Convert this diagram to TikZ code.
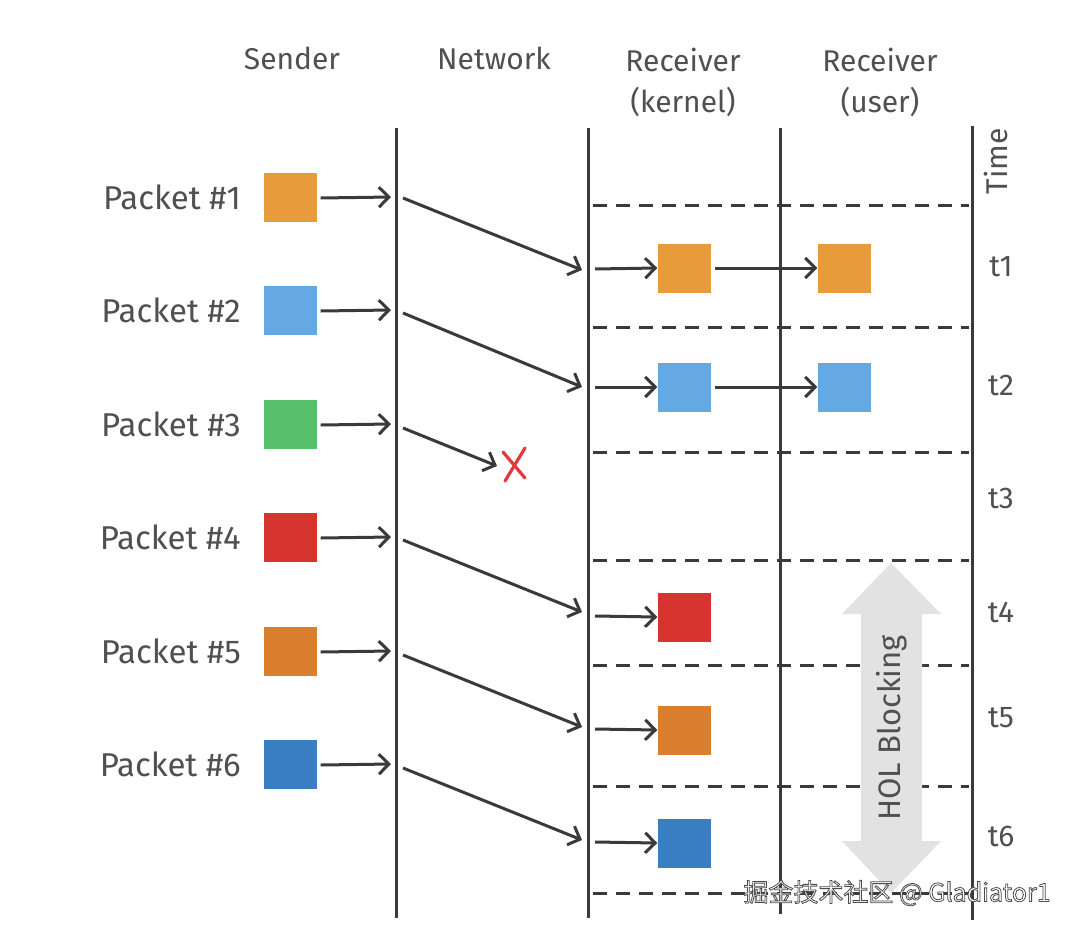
\documentclass[tikz,border=0pt]{standalone}
\usepackage{fontspec}
\setmainfont{Fira Sans}
\newfontfamily\cjkfont{Noto Sans CJK SC}
\usetikzlibrary{arrows.meta}
\definecolor{ink}{HTML}{3A3A3A}
\definecolor{txt}{HTML}{505050}
\definecolor{pone}{HTML}{E89B3A}
\definecolor{ptwo}{HTML}{64A8E4}
\definecolor{pthree}{HTML}{55BF6B}
\definecolor{pfour}{HTML}{D8342F}
\definecolor{pfive}{HTML}{DA7F2E}
\definecolor{psix}{HTML}{3A7FC1}
\definecolor{holgray}{HTML}{E2E2E2}
\definecolor{xred}{HTML}{E03A3A}
\tikzset{
  pkt/.style={minimum width=53pt,minimum height=49pt,inner sep=0pt,draw=none},
  lane/.style={draw=ink,line width=3pt},
  flow/.style={draw=ink,line width=3pt,-{Straight Barb[length=10pt,width=20pt,line width=3pt]}},
  tline/.style={draw=ink,line width=3pt,dash pattern=on 14pt off 9pt},
  hdr/.style={text=txt,font=\fontsize{30}{32}\selectfont,inner sep=0pt},
  lbl/.style={text=txt,font=\fontsize{33}{35}\selectfont,inner sep=0pt},
  tlbl/.style={text=txt,font=\fontsize{30}{32}\selectfont,inner sep=0pt}
}
\begin{document}
\begin{tikzpicture}[x=1pt,y=-1pt]
\useasboundingbox (0,0) rectangle (1078,934);
\fill[white] (0,0) rectangle (1078,934);

% headers
\node[hdr] (hs) at (292,58) {Sender};
\node[hdr] (hn) at (494,58) {Network};
\node[hdr] (hk) at (683,60) {Receiver};
\node[hdr] (hk2) at (683,102) {(kernel)};
\node[hdr] (hu) at (880,60) {Receiver};
\node[hdr] (hu2) at (880,102) {(user)};

% vertical lanes
\coordinate (n0) at (396,128); \coordinate (n1) at (396,918);
\coordinate (k0) at (588,128); \coordinate (k1) at (588,918);
\coordinate (u0) at (780,128); \coordinate (u1) at (780,914);
\coordinate (t0) at (972,126); \coordinate (t1) at (972,920);
\draw[lane] (n0) -- (n1);
\draw[lane] (k0) -- (k1);
\draw[lane] (u0) -- (u1);
\draw[lane] (t0) -- (t1);

% time dashed lines
\foreach \yy in {205,327,452,560,665,786,893}{
  \draw[tline] (593,\yy) -- (969,\yy);
}

% HOL blocking arrow
\fill[holgray] (891,563) -- (941,614) -- (922,614) -- (922,841) -- (941,841)
   -- (891,893) -- (842,841) -- (861,841) -- (861,614) -- (842,614) -- cycle;
\node[tlbl,rotate=90,font=\fontsize{31}{33}\selectfont] (holt) at (892,728) {HOL Blocking};

% time labels
\node[tlbl,rotate=90] (time) at (996,161) {Time};
\node[tlbl] (l1) at (1001,267) {t1};
\node[tlbl] (l2) at (1001,385) {t2};
\node[tlbl] (l3) at (1001,498) {t3};
\node[tlbl] (l4) at (1001,612) {t4};
\node[tlbl] (l5) at (1001,718) {t5};
\node[tlbl] (l6) at (1001,836) {t6};

% sender packets
\foreach \i/\yy/\c in {1/197/pone,2/310/ptwo,3/424/pthree,4/537/pfour,5/651/pfive,6/764/psix}{
  \node[pkt,fill=\c] (s\i) at (290,\yy) {};
  \node[lbl,anchor=east] (p\i) at (241,\yy) {Packet \#\i};
  \coordinate (sn\i) at (391,\yy);
  \draw[flow] (s\i.east) ++(4,1) coordinate (se\i) -- (sn\i);
}

% kernel packets
\node[pkt,fill=pone] (k1) at (684,268) {};
\node[pkt,fill=ptwo] (k2) at (684,387) {};
\node[pkt,fill=pfour] (k4) at (684,617) {};
\node[pkt,fill=pfive] (k5) at (684,730) {};
\node[pkt,fill=psix] (k6) at (684,843) {};
% user packets
\node[pkt,fill=pone] (u1) at (844,268) {};
\node[pkt,fill=ptwo] (u2) at (844,387) {};

% network diagonals
\foreach \i/\ya/\yb in {1/198/270,2/313/387,4/540/612,5/655/727,6/768/840}{
  \coordinate (na\i) at (403,\ya);
  \coordinate (nb\i) at (582,\yb);
  \draw[flow] (na\i) -- (nb\i);
}
\coordinate (na3) at (403,428);
\coordinate (nb3) at (497,466);
\draw[flow] (na3) -- (nb3);
% lost packet cross
\coordinate (lost) at (514,464);
\draw[xred,line width=3.2pt,line cap=round] (lost) ++(-9,17) -- ++(20,-33);
\draw[xred,line width=3.2pt,line cap=round] (lost) ++(-11,-12) -- ++(22,26);

% into kernel
\foreach \i/\yy in {1/269,2/387,4/616,5/729,6/842}{
  \coordinate (ki\i) at (595,\yy);
  \draw[flow] (ki\i) -- (k\i.west);
}
% kernel to user
\draw[flow] (k1.east) ++(4,0) coordinate (ke1) -- (u1.west);
\draw[flow] (k2.east) ++(4,0) coordinate (ke2) -- (u2.west);

% watermark (white text with dark outline)
\node[inner sep=0pt,font=\cjkfont\fontsize{25}{27}\selectfont] (wm) at (897,893)
  {\color{white}\special{pdf:literal direct 2 Tr 0.8 w 0.3 0.3 0.3 RG 1 1 1 rg}掘金技术社区 @ Gladiator1\special{pdf:literal direct 0 Tr}};
\end{tikzpicture}
\end{document}
